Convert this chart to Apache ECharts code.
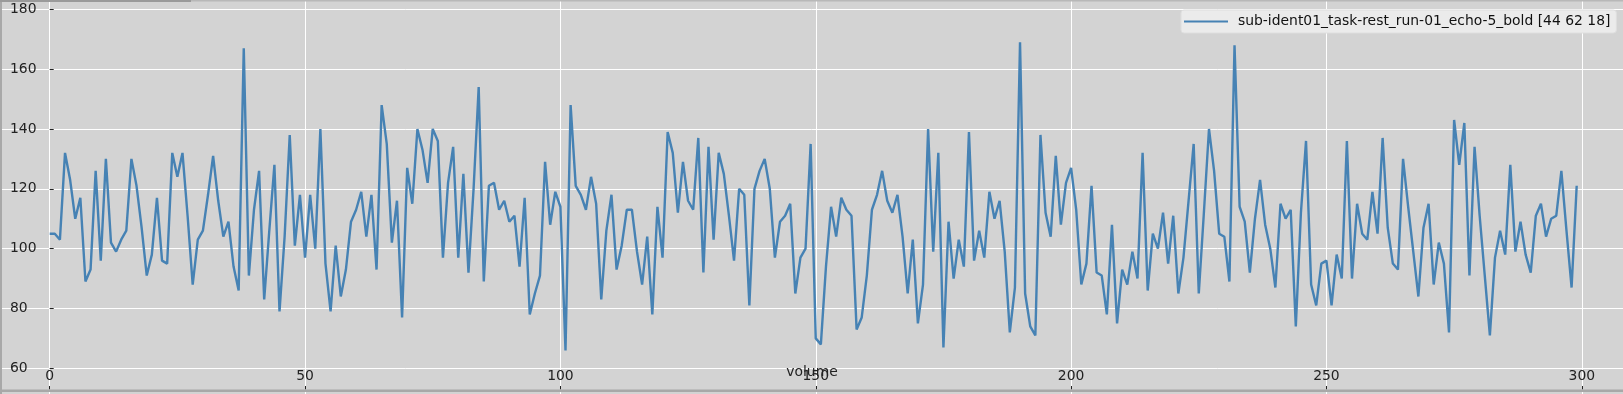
<!DOCTYPE html>
<html><head><meta charset="utf-8">
<script src="https://cdn.jsdelivr.net/npm/echarts@6/dist/echarts.min.js"></script>
<style>html,body{margin:0;padding:0;background:#d3d3d3}#c{width:1623px;height:394px}</style>
</head><body><div id="c"></div>
<script>
const seriesName = 'sub-ident01_task-rest_run-01_echo-5_bold [44 62 18]';
const axisName = 'volume';
const signal = [
105,105,103,132,123,110,117,89,93,126,
96,130,102,99,103,106,130,121,107,91,
98,117,96,95,132,124,132,111,88,103,
106,118,131,116,104,109,94,86,167,91,
113,126,83,106,128,79,104,138,101,118,
97,118,100,140,95,79,101,84,93,109,
113,119,104,118,93,148,135,102,116,77,
127,115,140,133,122,140,136,97,122,134,
97,125,92,120,154,89,121,122,113,116,
109,111,94,117,78,85,91,129,108,119,
114,66,148,121,118,113,124,115,83,106,
118,93,101,113,113,99,88,104,78,114,
97,139,132,112,129,116,113,137,92,134,
103,132,125,111,96,120,118,81,120,126,
130,120,97,109,111,115,85,97,100,135,
70,68,94,114,104,117,113,111,73,77,
91,113,118,126,116,112,118,104,85,103,
75,88,140,99,132,67,109,90,103,94,
139,96,106,97,119,110,116,99,72,87,
169,85,74,71,138,112,104,131,108,122,
127,113,88,95,121,92,91,78,108,75,
93,88,99,90,132,86,105,100,112,95,
111,85,97,116,135,85,112,140,126,105,
104,89,168,114,109,92,110,123,108,100,
87,115,110,113,74,112,136,88,81,95,
96,81,98,90,136,90,115,105,103,119,
105,137,107,95,93,130,114,99,84,107,
115,88,102,95,72,143,128,142,91,134,
111,91,71,97,106,98,128,99,109,98,
92,111,115,104,110,111,126,106,87,121
];
const volumes = signal.map((_, i) => i);
const xTickStep = 50;
const yTickStep = 20;

const W = 1623, H = 394;
const x0px = 49.7, xScale = 5.107;
const y180px = 9.3, yScale = 2.9917;
const xMin = -50, xMax = 350, yMin = 40, yMax = 200;
const gridLeft = x0px + xMin * xScale;
const gridRight = W - (x0px + xMax * xScale);
const gridTop = y180px - (yMax - 180) * yScale;
const gridBottom = H - (y180px + (180 - yMin) * yScale);
const spineLeft = 2, spineBottom = 389.5;
const font = 'DejaVu Sans';
const fs = 13.9;

const chart = echarts.init(document.getElementById('c'), null, {renderer: 'canvas'});
chart.setOption({
  backgroundColor: '#d3d3d3',
  animation: false,
  textStyle: {fontFamily: font},
  grid: {left: gridLeft, right: gridRight, top: gridTop, bottom: gridBottom, containLabel: false, outerBoundsMode: 'none'},
  xAxis: {
    type: 'value', min: xMin, max: xMax, interval: xTickStep,
    offset: spineBottom - (H - gridBottom),
    axisLine: {show: false},
    axisTick: {show: true, inside: true, length: 3.5, lineStyle: {color: '#222', width: 1}},
    axisLabel: {inside: true, margin: 6, color: '#222', fontSize: fs, fontFamily: font, interval: 0, hideOverlap: false},
    splitLine: {show: true, lineStyle: {color: '#ffffff', width: 1}}
  },
  yAxis: {
    type: 'value', min: yMin, max: yMax, interval: yTickStep,
    offset: gridLeft - spineLeft,
    axisLine: {show: false},
    axisTick: {show: true, inside: true, length: 4, lineStyle: {color: '#222', width: 1}},
    axisLabel: {inside: true, margin: 8, color: '#222', fontSize: fs, fontFamily: font, hideOverlap: false},
    splitLine: {show: true, lineStyle: {color: '#ffffff', width: 1}}
  },
  legend: {
    show: true, left: 1181, top: 10, orient: 'horizontal',
    backgroundColor: '#ebebeb', borderColor: '#dedede', borderWidth: 1, borderRadius: 3,
    padding: [4.5, 6, 4.5, 3],
    itemWidth: 44, itemHeight: 2, icon: 'rect',
    textStyle: {fontFamily: font, fontSize: fs, color: '#111', padding: [0, 0, 0, 5]},
    data: [{name: seriesName, itemStyle: {color: '#4682b4'}}]
  },
  series: [{
    name: seriesName, type: 'line', symbol: 'none', showSymbol: false,
    data: volumes.map((v, i) => [v, signal[i]]),
    lineStyle: {color: '#4682b4', width: 2.4},
    itemStyle: {color: '#4682b4'}
  }],
  graphic: [
    {type: 'rect', z: 100, shape: {x: 0, y: 0, width: 2, height: H}, style: {fill: '#a8a8a8'}},
    {type: 'rect', z: 100, shape: {x: 0, y: 389.5, width: W, height: 2.5}, style: {fill: '#a8a8a8'}},
    {type: 'rect', z: 100, shape: {x: 0, y: 0, width: W, height: 1.5}, style: {fill: '#b8b8b8'}},
    {type: 'rect', z: 100, shape: {x: 0, y: 0, width: 191, height: 2}, style: {fill: '#9a9a9a'}},
    {type: 'text', z: 100, x: 812, y: 372.7, style: {text: axisName, font: fs + 'px "DejaVu Sans"', fill: '#222', align: 'center', verticalAlign: 'middle'}}
  ]
});
</script></body></html>
